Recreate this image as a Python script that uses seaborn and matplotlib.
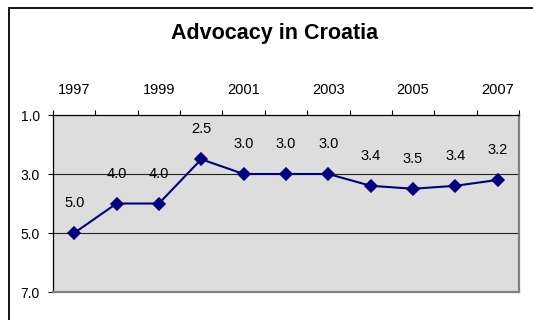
import matplotlib
matplotlib.use("Agg")
import matplotlib.pyplot as plt
import seaborn as sns
import pandas as pd
from matplotlib.patches import Rectangle
from matplotlib.ticker import FixedLocator, FormatStrFormatter

# Datos
years = ["1997", "1998", "1999", "2000", "2001", "2002", "2003", "2004", "2005", "2006", "2007"]
scores = [5.0, 4.0, 4.0, 2.5, 3.0, 3.0, 3.0, 3.4, 3.5, 3.4, 3.2]
y_ticks = [1.0, 3.0, 5.0, 7.0]
titulo = "Advocacy in Croatia"

df = pd.DataFrame({"year": years, "score": scores})

sns.set_style("white")
plt.rcParams["font.family"] = ["Liberation Sans", "DejaVu Sans"]
plt.rcParams["text.color"] = "black"
plt.rcParams["xtick.color"] = "black"
plt.rcParams["ytick.color"] = "black"

fig = plt.figure(figsize=(5.33, 3.2), dpi=100)
ax = fig.add_axes([53 / 533, 1 - 292 / 320, 466 / 533, 177 / 320])
ax.set_facecolor("#dddddd")

sns.pointplot(data=df, x="year", y="score", color="#000080", marker="D",
              markersize=6.3, linewidth=1.5, errorbar=None, ax=ax)

# Eje Y invertido
ax.set_ylim(7.0, 1.0)
ax.set_yticks(y_ticks)
ax.yaxis.set_major_formatter(FormatStrFormatter("%.1f"))
ax.tick_params(axis="y", direction="out", length=3.6, width=0.8, color="black",
               labelsize=10, labelcolor="black", pad=6, left=True)
for v in y_ticks[1:-1]:
    ax.axhline(v, color="#222222", lw=0.8, zorder=0.5)

# Eje X arriba, ticks entre categorias
n = len(years)
ax.set_xlim(-0.5, n - 0.5)
ax.xaxis.tick_top()
ax.xaxis.set_major_locator(FixedLocator([i - 0.5 for i in range(n + 1)]))
ax.xaxis.set_major_formatter(plt.NullFormatter())
ax.xaxis.set_minor_locator(FixedLocator(list(range(0, n, 2))))
ax.set_xticklabels(years[::2], minor=True)
ax.tick_params(axis="x", which="major", direction="out", length=3.6, width=0.8,
               color="black", top=True, bottom=False)
ax.tick_params(axis="x", which="minor", length=0, labelsize=10.5, labelcolor="black",
               pad=13, top=True, bottom=False, labeltop=True, labelbottom=False)
ax.set_xlabel("")
ax.set_ylabel("")

for sp in ["left", "top"]:
    ax.spines[sp].set_color("black")
    ax.spines[sp].set_linewidth(0.9)
for sp in ["right", "bottom"]:
    ax.spines[sp].set_color("#808080")
    ax.spines[sp].set_linewidth(1.6)

# Etiquetas de datos
for i, v in enumerate(scores):
    ax.annotate(f"{v:.1f}", (i, v), xytext=(0, 21.5), textcoords="offset points",
                ha="center", va="center", fontsize=10.5, color="black")

fig.text(275 / 533, 1 - 33 / 320, titulo, ha="center", va="center",
         fontsize=15.5, fontweight="bold", color="black")

# Borde del grafico
fig.patches.append(Rectangle((9 / 533, -0.2), 1.2, 1.2 - 8 / 320,
                             transform=fig.transFigure, fill=False,
                             edgecolor="black", linewidth=1.3))

fig.savefig("out.png", dpi=100)
plt.close(fig)
